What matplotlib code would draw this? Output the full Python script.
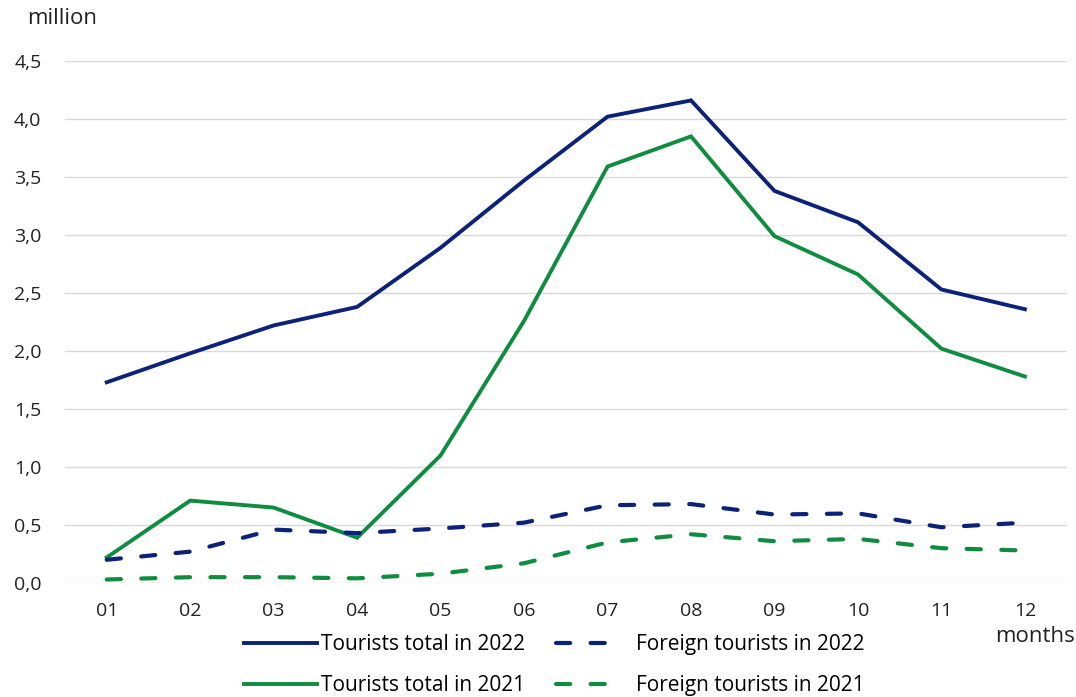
import matplotlib.pyplot as plt
from matplotlib.ticker import FuncFormatter

plt.rcParams['font.family'] = ['Open Sans', 'DejaVu Sans']

# data (million tourists per month)
months = ["01", "02", "03", "04", "05", "06", "07", "08", "09", "10", "11", "12"]
total_2022 = [1.73, 1.98, 2.22, 2.38, 2.89, 3.47, 4.02, 4.16, 3.38, 3.11, 2.53, 2.36]
total_2021 = [0.22, 0.71, 0.65, 0.39, 1.10, 2.26, 3.59, 3.85, 2.99, 2.66, 2.02, 1.78]
foreign_2022 = [0.20, 0.27, 0.46, 0.43, 0.47, 0.52, 0.67, 0.68, 0.59, 0.60, 0.48, 0.52]
foreign_2021 = [0.03, 0.05, 0.05, 0.04, 0.08, 0.17, 0.35, 0.42, 0.36, 0.38, 0.30, 0.28]

navy = "#0c2178"
green = "#0f8c3f"
fs = 14

fig = plt.figure(figsize=(10.76, 6.97), dpi=100)
ax = fig.add_axes([0.0604, 0.1636, 0.9309, 0.7489])

x = list(range(len(months)))
dash = (3.4, 4.9)
l1, = ax.plot(x, total_2022, color=navy, lw=2.8, solid_joinstyle='miter',
              label="Tourists total in 2022")
l2, = ax.plot(x, total_2021, color=green, lw=2.8, solid_joinstyle='miter',
              label="Tourists total in 2021")
l3, = ax.plot(x, foreign_2022, color=navy, lw=3.0, dashes=dash,
              dash_capstyle='round', label="Foreign tourists in 2022")
l4, = ax.plot(x, foreign_2021, color=green, lw=3.0, dashes=dash,
              dash_capstyle='round', label="Foreign tourists in 2021")

ax.set_xlim(-0.5, len(months) - 0.5)
ax.set_ylim(0, 4.5)
ax.set_yticks([i * 0.5 for i in range(10)])
ax.yaxis.set_major_formatter(FuncFormatter(lambda v, p: f"{v:.1f}".replace(".", ",")))
ax.set_xticks(x)
ax.set_xticklabels(months)
ax.grid(axis='y', color='#d9d9d9', lw=1.0)
ax.set_axisbelow(True)
for s in ax.spines.values():
    s.set_visible(False)
ax.tick_params(length=0, labelsize=fs, colors='#222222')
ax.tick_params(axis='y', pad=17)
ax.tick_params(axis='x', pad=14)

fig.text(0.025, 0.974, "million", fontsize=fs + 2, color='#222222', va='center', ha='left')
fig.text(0.999, 0.087, "months", fontsize=fs + 2, color='#222222', va='center', ha='right')

# two legends so the solid and dashed keys can have different lengths
leg_kw = dict(frameon=False, fontsize=fs + 1, labelspacing=0.95, borderpad=0,
              borderaxespad=0, loc='center left')
leg1 = fig.legend(handles=[l1, l2], bbox_to_anchor=(0.2265, 0.046),
                  handlelength=3.5, handletextpad=0.2, **leg_kw)
leg2 = fig.legend(handles=[l3, l4], bbox_to_anchor=(0.5165, 0.046),
                  handlelength=2.75, handletextpad=1.1, **leg_kw)

fig.savefig("out.png", dpi=100)
